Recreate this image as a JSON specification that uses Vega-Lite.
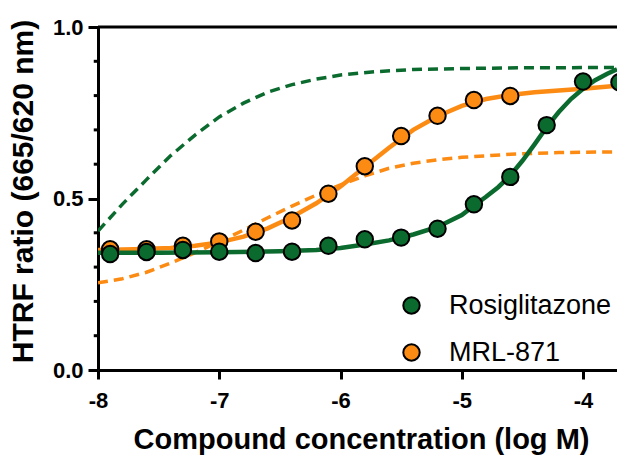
{
  "$schema": "https://vega.github.io/schema/vega-lite/v6.json",
  "width": 519,
  "height": 343,
  "autosize": {"type": "none"},
  "padding": {"left": 98, "top": 27, "right": 0, "bottom": 85},
  "background": "white",
  "config": {
    "view": {"stroke": null},
    "font": "Liberation Sans",
    "axis": {
      "domainColor": "black", "domainWidth": 3, "tickColor": "black", "tickWidth": 3,
      "labelFont": "Liberation Sans", "labelFontWeight": "bold", "labelFontSize": 22, "labelColor": "black",
      "titleFont": "Liberation Sans", "titleFontWeight": "bold", "titleColor": "black", "grid": false,
      "labelOverlap": false, "labelFlush": false
    },
    "legend": {
      "orient": "none", "legendX": 300, "legendY": 265, "padding": 0,
      "labelFont": "Liberation Sans", "labelFontSize": 27, "labelColor": "black", "labelFontWeight": "normal",
      "labelLimit": 0,
      "symbolSize": 270, "symbolStrokeColor": "black", "symbolStrokeWidth": 2,
      "labelOffset": 24, "rowPadding": 19
    }
  },
  "datasets": {
    "minor": [
      {"tick": 0.1}, {"tick": 0.2}, {"tick": 0.3}, {"tick": 0.4},
      {"tick": 0.6}, {"tick": 0.7}, {"tick": 0.8}, {"tick": 0.9}
    ],
    "points": [
      {"compound": "MRL-871", "x": -7.9, "y": 0.352},
      {"compound": "MRL-871", "x": -7.6, "y": 0.352},
      {"compound": "MRL-871", "x": -7.3, "y": 0.362},
      {"compound": "MRL-871", "x": -7.0, "y": 0.375},
      {"compound": "MRL-871", "x": -6.7, "y": 0.403},
      {"compound": "MRL-871", "x": -6.4, "y": 0.436},
      {"compound": "MRL-871", "x": -6.1, "y": 0.514},
      {"compound": "MRL-871", "x": -5.8, "y": 0.594},
      {"compound": "MRL-871", "x": -5.5, "y": 0.682},
      {"compound": "MRL-871", "x": -5.2, "y": 0.741},
      {"compound": "MRL-871", "x": -4.9, "y": 0.787},
      {"compound": "MRL-871", "x": -4.6, "y": 0.799},
      {"compound": "Rosiglitazone", "x": -7.9, "y": 0.338},
      {"compound": "Rosiglitazone", "x": -7.6, "y": 0.344},
      {"compound": "Rosiglitazone", "x": -7.3, "y": 0.350},
      {"compound": "Rosiglitazone", "x": -7.0, "y": 0.345},
      {"compound": "Rosiglitazone", "x": -6.7, "y": 0.341},
      {"compound": "Rosiglitazone", "x": -6.4, "y": 0.345},
      {"compound": "Rosiglitazone", "x": -6.1, "y": 0.362},
      {"compound": "Rosiglitazone", "x": -5.8, "y": 0.381},
      {"compound": "Rosiglitazone", "x": -5.5, "y": 0.386},
      {"compound": "Rosiglitazone", "x": -5.2, "y": 0.412},
      {"compound": "Rosiglitazone", "x": -4.9, "y": 0.483},
      {"compound": "Rosiglitazone", "x": -4.6, "y": 0.563},
      {"compound": "Rosiglitazone", "x": -4.3, "y": 0.714},
      {"compound": "Rosiglitazone", "x": -4.0, "y": 0.841},
      {"compound": "Rosiglitazone", "x": -3.7, "y": 0.839}
    ],
    "fit": [
      {"series": "MRL-871", "x": -8.0, "y": 0.350},
      {"series": "MRL-871", "x": -7.7, "y": 0.352},
      {"series": "MRL-871", "x": -7.4, "y": 0.356},
      {"series": "MRL-871", "x": -7.2, "y": 0.362},
      {"series": "MRL-871", "x": -7.0, "y": 0.372},
      {"series": "MRL-871", "x": -6.8, "y": 0.389},
      {"series": "MRL-871", "x": -6.6, "y": 0.413},
      {"series": "MRL-871", "x": -6.4, "y": 0.446},
      {"series": "MRL-871", "x": -6.2, "y": 0.486},
      {"series": "MRL-871", "x": -6.0, "y": 0.535},
      {"series": "MRL-871", "x": -5.8, "y": 0.592},
      {"series": "MRL-871", "x": -5.6, "y": 0.648},
      {"series": "MRL-871", "x": -5.4, "y": 0.700},
      {"series": "MRL-871", "x": -5.2, "y": 0.740},
      {"series": "MRL-871", "x": -5.0, "y": 0.770},
      {"series": "MRL-871", "x": -4.8, "y": 0.790},
      {"series": "MRL-871", "x": -4.6, "y": 0.802},
      {"series": "MRL-871", "x": -4.4, "y": 0.810},
      {"series": "MRL-871", "x": -4.2, "y": 0.815},
      {"series": "MRL-871", "x": -4.0, "y": 0.820},
      {"series": "MRL-871", "x": -3.72, "y": 0.829},
      {"series": "Rosiglitazone", "x": -8.0, "y": 0.342},
      {"series": "Rosiglitazone", "x": -7.5, "y": 0.342},
      {"series": "Rosiglitazone", "x": -7.0, "y": 0.343},
      {"series": "Rosiglitazone", "x": -6.5, "y": 0.346},
      {"series": "Rosiglitazone", "x": -6.2, "y": 0.350},
      {"series": "Rosiglitazone", "x": -6.0, "y": 0.356},
      {"series": "Rosiglitazone", "x": -5.8, "y": 0.366},
      {"series": "Rosiglitazone", "x": -5.6, "y": 0.378},
      {"series": "Rosiglitazone", "x": -5.4, "y": 0.395},
      {"series": "Rosiglitazone", "x": -5.2, "y": 0.417},
      {"series": "Rosiglitazone", "x": -5.0, "y": 0.452},
      {"series": "Rosiglitazone", "x": -4.9, "y": 0.479},
      {"series": "Rosiglitazone", "x": -4.8, "y": 0.505},
      {"series": "Rosiglitazone", "x": -4.7, "y": 0.533},
      {"series": "Rosiglitazone", "x": -4.6, "y": 0.567},
      {"series": "Rosiglitazone", "x": -4.5, "y": 0.610},
      {"series": "Rosiglitazone", "x": -4.4, "y": 0.658},
      {"series": "Rosiglitazone", "x": -4.3, "y": 0.708},
      {"series": "Rosiglitazone", "x": -4.2, "y": 0.752},
      {"series": "Rosiglitazone", "x": -4.1, "y": 0.790},
      {"series": "Rosiglitazone", "x": -4.0, "y": 0.820},
      {"series": "Rosiglitazone", "x": -3.9, "y": 0.845},
      {"series": "Rosiglitazone", "x": -3.8, "y": 0.864},
      {"series": "Rosiglitazone", "x": -3.72, "y": 0.877}
    ],
    "ref": [
      {"series": "Rosiglitazone", "x": -8.0, "y": 0.405},
      {"series": "Rosiglitazone", "x": -7.8, "y": 0.483},
      {"series": "Rosiglitazone", "x": -7.6, "y": 0.555},
      {"series": "Rosiglitazone", "x": -7.4, "y": 0.625},
      {"series": "Rosiglitazone", "x": -7.2, "y": 0.685},
      {"series": "Rosiglitazone", "x": -7.0, "y": 0.738},
      {"series": "Rosiglitazone", "x": -6.8, "y": 0.778},
      {"series": "Rosiglitazone", "x": -6.6, "y": 0.810},
      {"series": "Rosiglitazone", "x": -6.4, "y": 0.832},
      {"series": "Rosiglitazone", "x": -6.2, "y": 0.848},
      {"series": "Rosiglitazone", "x": -6.0, "y": 0.860},
      {"series": "Rosiglitazone", "x": -5.7, "y": 0.870},
      {"series": "Rosiglitazone", "x": -5.4, "y": 0.876},
      {"series": "Rosiglitazone", "x": -5.0, "y": 0.879},
      {"series": "Rosiglitazone", "x": -4.5, "y": 0.881},
      {"series": "Rosiglitazone", "x": -3.72, "y": 0.882},
      {"series": "MRL-871", "x": -8.0, "y": 0.254},
      {"series": "MRL-871", "x": -7.8, "y": 0.266},
      {"series": "MRL-871", "x": -7.6, "y": 0.285},
      {"series": "MRL-871", "x": -7.4, "y": 0.312},
      {"series": "MRL-871", "x": -7.2, "y": 0.342},
      {"series": "MRL-871", "x": -7.0, "y": 0.374},
      {"series": "MRL-871", "x": -6.8, "y": 0.408},
      {"series": "MRL-871", "x": -6.6, "y": 0.444},
      {"series": "MRL-871", "x": -6.4, "y": 0.478},
      {"series": "MRL-871", "x": -6.2, "y": 0.510},
      {"series": "MRL-871", "x": -6.0, "y": 0.540},
      {"series": "MRL-871", "x": -5.8, "y": 0.566},
      {"series": "MRL-871", "x": -5.6, "y": 0.588},
      {"series": "MRL-871", "x": -5.4, "y": 0.603},
      {"series": "MRL-871", "x": -5.2, "y": 0.613},
      {"series": "MRL-871", "x": -5.0, "y": 0.620},
      {"series": "MRL-871", "x": -4.6, "y": 0.629},
      {"series": "MRL-871", "x": -4.2, "y": 0.634},
      {"series": "MRL-871", "x": -3.72, "y": 0.636}
    ]
  },
  "layer": [
    {
      "data": {"name": "ref"},
      "transform": [{"filter": "datum.series == 'Rosiglitazone'"}],
      "mark": {"type": "line", "strokeDash": [10, 6], "strokeWidth": 3.5, "clip": true, "color": "#0b6a2e"},
      "encoding": {
        "x": {
          "field": "x", "type": "quantitative", "title": "Compound concentration (log M)",
          "scale": {"domain": [-8, -3.72], "nice": false, "zero": false},
          "axis": {"values": [-8, -7, -6, -5, -4], "labelExpr": "'' + datum.value", "tickSize": 9, "labelPadding": 11, "titleFontSize": 29, "titlePadding": 14, "titleX": 263}
        },
        "y": {
          "field": "y", "type": "quantitative", "title": "HTRF ratio (665/620 nm)",
          "scale": {"domain": [0, 1], "nice": false},
          "axis": {"values": [0, 0.5, 1], "format": ".1f", "tickSize": 10, "labelPadding": 5, "titleFontSize": 30, "titlePadding": 14, "titleY": 164}
        }
      }
    },
    {
      "data": {"name": "ref"},
      "transform": [{"filter": "datum.series == 'MRL-871'"}],
      "mark": {"type": "line", "strokeDash": [10, 6], "strokeWidth": 3.5, "clip": true, "color": "#fc8b14"},
      "encoding": {
        "x": {"field": "x", "type": "quantitative", "title": "Compound concentration (log M)"},
        "y": {"field": "y", "type": "quantitative", "title": "HTRF ratio (665/620 nm)"}
      }
    },
    {
      "data": {"name": "fit"},
      "transform": [{"filter": "datum.series == 'MRL-871'"}],
      "mark": {"type": "line", "strokeWidth": 4.5, "clip": true, "color": "#fc8b14"},
      "encoding": {
        "x": {"field": "x", "type": "quantitative", "title": "Compound concentration (log M)"},
        "y": {"field": "y", "type": "quantitative", "title": "HTRF ratio (665/620 nm)"}
      }
    },
    {
      "data": {"name": "fit"},
      "transform": [{"filter": "datum.series == 'Rosiglitazone'"}],
      "mark": {"type": "line", "strokeWidth": 4.5, "clip": true, "color": "#0b6a2e"},
      "encoding": {
        "x": {"field": "x", "type": "quantitative", "title": "Compound concentration (log M)"},
        "y": {"field": "y", "type": "quantitative", "title": "HTRF ratio (665/620 nm)"}
      }
    },
    {
      "data": {"name": "points"},
      "mark": {"type": "point", "filled": true, "shape": "circle", "size": 270, "stroke": "black", "strokeWidth": 2, "opacity": 1},
      "encoding": {
        "x": {"field": "x", "type": "quantitative", "title": "Compound concentration (log M)"},
        "y": {"field": "y", "type": "quantitative", "title": "HTRF ratio (665/620 nm)"},
        "color": {
          "field": "compound", "type": "nominal",
          "scale": {"domain": ["Rosiglitazone", "MRL-871"], "range": ["#0b6a2e", "#fc8b14"]},
          "legend": {"title": null, "symbolType": "circle"}
        }
      }
    },
    {
      "data": {"name": "minor"},
      "mark": {"type": "rule", "color": "black", "strokeWidth": 3},
      "encoding": {
        "y": {"field": "tick", "type": "quantitative", "title": "HTRF ratio (665/620 nm)"},
        "x": {"datum": -8.035, "type": "quantitative"},
        "x2": {"datum": -8.0}
      }
    },
    {
      "data": {"values": [{"top": 1}]},
      "mark": {"type": "rule", "color": "black", "strokeWidth": 3},
      "encoding": {
        "y": {"field": "top", "type": "quantitative", "title": "HTRF ratio (665/620 nm)"}
      }
    }
  ]
}
